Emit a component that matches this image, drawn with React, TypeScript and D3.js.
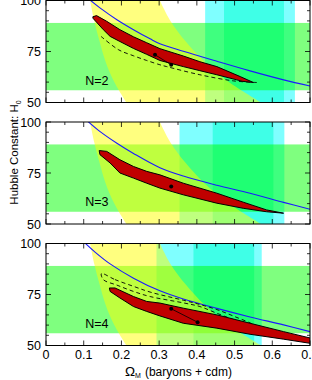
import * as d3 from "d3";

// ---- layout ----
const W = 312;
const H = 380;
const X_LEFT = 46;
const X_RIGHT = 310;
const PANEL_TOPS = [0.5, 122, 243.5];
const PANEL_H = 102;
const FONT = "'Liberation Sans', Arial, Helvetica, sans-serif";

// ---- data (Omega_M, H0) ----
const panelLabels = ["N=2", "N=3", "N=4"];
const xMajorTicks = [0, 0.1, 0.2, 0.3, 0.4, 0.5, 0.6, 0.7];
const xTickLabels = ["0", "0.1", "0.2", "0.3", "0.4", "0.5", "0.6", "0.7"];
const yMajorTicks = [50, 75, 100];

const greenBand = [56, 89];

const yellowH0 = [100, 90, 80, 70, 60, 50];
const yellowLeft = [0.117, 0.128, 0.142, 0.158, 0.181, 0.213];
const yellowRight = [0.302, 0.33, 0.37, 0.42, 0.485, 0.57];

const cyanOuter = [
  [0.422, 0.66],
  [0.354, 0.632],
  [0.293, 0.572],
];
const cyanInner = [
  [0.472, 0.631],
  [0.442, 0.603],
  [0.391, 0.552],
];

const blue1 = [[0.115, 100.5], [0.143, 96.4], [0.188, 90.6], [0.232, 85.7], [0.276, 81.2], [0.302, 78.8], [0.364, 75.1], [0.453, 70.2], [0.541, 65.5], [0.63, 61.1], [0.7, 58.1]];
const blue2 = [[0.111, 100.3], [0.14, 95.8], [0.188, 89.6], [0.232, 84.6], [0.302, 77.6], [0.364, 73.5], [0.453, 69], [0.541, 65.1], [0.63, 60.6], [0.7, 57.2]];
const blue3 = [[0.103, 100.3], [0.13, 95.8], [0.17, 90], [0.232, 83], [0.302, 76.8], [0.364, 72.8], [0.453, 68.2], [0.541, 64], [0.63, 60.1], [0.7, 56.8]];

const red1Upper = [[0.124, 92], [0.134, 92.6], [0.161, 89.8], [0.196, 85.7], [0.232, 82.2], [0.267, 79.3], [0.302, 76.4], [0.364, 72.8], [0.408, 70], [0.453, 67.6], [0.515, 62.7], [0.55, 59.8]];
const red1Lower = [[0.52, 60.4], [0.506, 61.1], [0.453, 63.6], [0.408, 65.6], [0.364, 67.6], [0.302, 70.6], [0.267, 73.6], [0.232, 76.5], [0.196, 79.9], [0.17, 82.4], [0.152, 85.7], [0.125, 91.2]];
const red2Upper = [[0.141, 86], [0.161, 85.6], [0.196, 81.5], [0.232, 78.2], [0.267, 75.8], [0.302, 74.1], [0.364, 70], [0.453, 65.1], [0.523, 60.7], [0.585, 56.9], [0.63, 55.3]];
const red2Lower = [[0.585, 56], [0.523, 57.7], [0.453, 60.2], [0.364, 64.3], [0.302, 67.6], [0.267, 70], [0.232, 72.5], [0.196, 75], [0.17, 79.9], [0.143, 84]];
const red3Upper = [[0.168, 78.2], [0.183, 78.2], [0.232, 74], [0.267, 71.6], [0.302, 70.8], [0.364, 68.3], [0.453, 65], [0.541, 60.9], [0.63, 56.8], [0.72, 52.8]];
const red3Lower = [[0.72, 50.5], [0.63, 53.1], [0.541, 55.5], [0.453, 58.5], [0.364, 60.9], [0.302, 64.5], [0.267, 66.7], [0.232, 69.1], [0.196, 73.3], [0.17, 76.5]];

const dashed1 = [[0.146, 82.4], [0.192, 75.9], [0.232, 72.9], [0.267, 70.6], [0.302, 68.5], [0.32, 67.6], [0.408, 63.6], [0.497, 60.6], [0.559, 59.8]];
const dashed3Upper = [[0.147, 85.3], [0.183, 82.3], [0.232, 79], [0.276, 76.2], [0.364, 72.2], [0.408, 70.1], [0.453, 67.6], [0.5, 64.2], [0.55, 60]];
const dashed3Lower = [[0.55, 59.3], [0.5, 62.5], [0.453, 65.8], [0.408, 69.1], [0.364, 70.9], [0.276, 74], [0.232, 76.5], [0.188, 79.6], [0.152, 82.3]];

const dots1 = [[0.289, 73.4], [0.332, 68.5]];
const dots2 = [[0.332, 68.4]];
const dots3 = [[0.332, 68], [0.402, 61.4]];

const blues = [blue1, blue2, blue3];
const reds = [red1Upper.concat(red1Lower), red2Upper.concat(red2Lower), red3Upper.concat(red3Lower)];
const dashedOpen = [dashed1, null, null];
const dashedClosed = [null, null, dashed3Upper.concat(dashed3Lower)];
const dots = [dots1, dots2, dots3];

const x = d3.scaleLinear().domain([0, 0.7]).range([X_LEFT, X_RIGHT]);

function Panel({ i }: { i: number }) {
  const top = PANEL_TOPS[i];
  const y = d3.scaleLinear().domain([50, 100]).range([top + PANEL_H, top]);
  const clipId = `clip${i}`;

  const line = d3
    .line<number[]>()
    .x((d) => x(d[0]))
    .y((d) => y(d[1]))
    .curve(d3.curveCatmullRom);
  const polyClosed = d3
    .line<number[]>()
    .x((d) => x(d[0]))
    .y((d) => y(d[1]))
    .curve(d3.curveLinearClosed);
  const smoothClosed = d3
    .line<number[]>()
    .x((d) => x(d[0]))
    .y((d) => y(d[1]))
    .curve(d3.curveCatmullRomClosed);
  const yellowArea = d3
    .area<number>()
    .y((h) => y(h))
    .x0((_h, k) => x(yellowLeft[k]))
    .x1((_h, k) => x(yellowRight[k]))
    .curve(d3.curveCatmullRom);

  const xMinor = d3.range(0, 0.7001, 0.05);
  const yMinor = d3.range(50, 100.01, 5);
  const pw = X_RIGHT - X_LEFT;

  return (
    <g>
      <defs>
        <clipPath id={clipId}>
          <rect x={X_LEFT} y={top} width={pw} height={PANEL_H} />
        </clipPath>
      </defs>
      <g clipPath={`url(#${clipId})`}>
        <rect x={X_LEFT} y={top} width={pw} height={PANEL_H} fill="#fff" />
        <rect x={x(cyanOuter[i][0])} y={top} width={x(cyanOuter[i][1]) - x(cyanOuter[i][0])} height={PANEL_H} fill="#00ffff" fillOpacity={0.5} />
        <rect x={x(cyanInner[i][0])} y={top} width={x(cyanInner[i][1]) - x(cyanInner[i][0])} height={PANEL_H} fill="#00ffd0" fillOpacity={0.5} />
        <rect x={X_LEFT} y={y(greenBand[1])} width={pw} height={y(greenBand[0]) - y(greenBand[1])} fill="#00ff00" fillOpacity={0.5} />
        <path d={yellowArea(yellowH0) || ""} fill="#ffff00" fillOpacity={0.5} />
        <path d={line(blues[i]) || ""} fill="none" stroke="#1a1aff" strokeWidth={1.1} />
        {dashedOpen[i] && (
          <path d={line(dashedOpen[i] as number[][]) || ""} fill="none" stroke="#000" strokeWidth={0.9} strokeDasharray="4,3" />
        )}
        {dashedClosed[i] && (
          <path d={smoothClosed(dashedClosed[i] as number[][]) || ""} fill="none" stroke="#000" strokeWidth={0.9} strokeDasharray="4,3" />
        )}
        <path d={polyClosed(reds[i]) || ""} fill="#c00000" stroke="#000" strokeWidth={1} strokeLinejoin="round" />
        {dots[i].length > 1 && (
          <path d={d3.line()(dots[i].map((d) => [x(d[0]), y(d[1])] as [number, number])) || ""} stroke="#000" strokeWidth={0.8} fill="none" />
        )}
        {dots[i].map((d, k) => (
          <circle key={k} cx={x(d[0])} cy={y(d[1])} r={2} fill="#000" />
        ))}
        <text x={x(0.104)} y={y(58.6)} fontSize={12.5} fontFamily={FONT} fill="#000">
          {panelLabels[i]}
        </text>
      </g>
      {/* ticks, inward on all sides */}
      {xMinor.map((v, k) => {
        const major = k % 2 === 0;
        const len = major ? 5 : 3;
        return (
          <g key={`xt${k}`} stroke="#000" strokeWidth={0.8}>
            <line x1={x(v)} x2={x(v)} y1={top + PANEL_H} y2={top + PANEL_H - len} />
            <line x1={x(v)} x2={x(v)} y1={top} y2={top + len} />
          </g>
        );
      })}
      {yMinor.map((v, k) => {
        const major = yMajorTicks.includes(Math.round(v));
        const len = major ? 5 : 3;
        return (
          <g key={`yt${k}`} stroke="#000" strokeWidth={0.8}>
            <line x1={X_LEFT} x2={X_LEFT + len} y1={y(v)} y2={y(v)} />
            <line x1={X_RIGHT} x2={X_RIGHT - len} y1={y(v)} y2={y(v)} />
          </g>
        );
      })}
      <rect x={X_LEFT} y={top} width={pw} height={PANEL_H} fill="none" stroke="#000" strokeWidth={1} />
      {yMajorTicks.map((v) => (
        <text key={`yl${v}`} x={41} y={y(v)} dy="0.36em" textAnchor="end" fontSize={12.5} fontFamily={FONT} fill="#000">
          {v}
        </text>
      ))}
      {i === 2 &&
        xMajorTicks.map((v, k) => (
          <text key={`xl${k}`} x={x(v)} y={top + PANEL_H + 13.5} textAnchor="middle" fontSize={12.5} fontFamily={FONT} fill="#000">
            {xTickLabels[k]}
          </text>
        ))}
    </g>
  );
}

export default function App() {
  return (
    <svg
      width={W}
      height={H}
      viewBox={`0 0 ${W} ${H}`}
      style={{ position: "absolute", left: 0, top: 0, background: "#fff" }}
    >
      <rect width={W} height={H} fill="#fff" />
      {[0, 1, 2].map((i) => (
        <Panel key={i} i={i} />
      ))}
      <text transform="translate(18,152.5) rotate(-90)" textAnchor="middle" fontSize={11.5} fontFamily={FONT} fill="#000">
        Hubble Constant: H<tspan fontSize={7} dy={2.5}>0</tspan>
      </text>
      <text x={125} y={376} fontFamily={FONT} fill="#000">
        <tspan fontSize={13.5}>Ω</tspan>
        <tspan fontSize={7} dy={2}>M</tspan>
        <tspan fontSize={12} dy={-2} dx={4}>(baryons + cdm)</tspan>
      </text>
    </svg>
  );
}
